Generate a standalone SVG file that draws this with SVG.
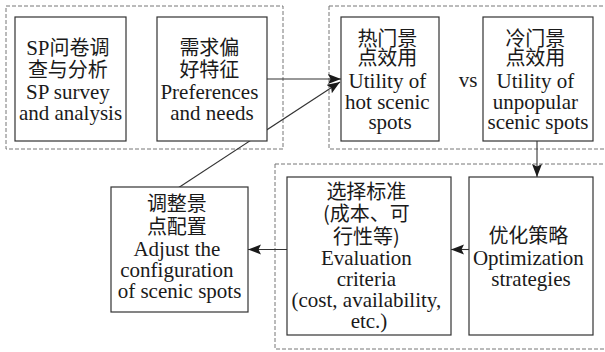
<svg xmlns="http://www.w3.org/2000/svg" width="605" height="352" viewBox="0 0 605 352">
  <style>
    .grp { fill: none; stroke: #777; stroke-width: 1; stroke-dasharray: 4 2; }
    .box { fill: #fff; stroke: #333; stroke-width: 1.2; }
    .lbl { font-family: "Liberation Serif", "Noto Sans CJK SC", serif; font-size: 21px; fill: #1a1a1a; text-anchor: middle; }
    .zh { font-family: "Noto Sans CJK SC", "Liberation Serif", sans-serif; font-size: 20px; }
    .wire { fill: none; stroke: #333; stroke-width: 1.1; }
  </style>
  <defs>
    <marker id="arrow" markerUnits="userSpaceOnUse" markerWidth="14" markerHeight="11" refX="13" refY="5" orient="auto">
      <path d="M0,0 L13,5 L0,10 L2.5,5 z" fill="#1a1a1a"/>
    </marker>
  </defs>

  <rect width="605" height="352" fill="#fff"/>

  <!-- dashed stage frames -->
  <g id="frames">
    <rect class="grp" x="6" y="6" width="277" height="143"/>
    <rect class="grp" x="329" y="6" width="282" height="143"/>
    <rect class="grp" x="275" y="164" width="336" height="185"/>
  </g>

  <!-- connectors -->
  <g id="connectors">
    <line class="wire" x1="267" y1="79" x2="341" y2="79" marker-end="url(#arrow)"/>
    <line class="wire" x1="178" y1="188" x2="340" y2="82" marker-end="url(#arrow)"/>
    <line class="wire" x1="537" y1="141" x2="537" y2="177" marker-end="url(#arrow)"/>
    <line class="wire" x1="469" y1="249.5" x2="451" y2="249.5" marker-end="url(#arrow)"/>
    <line class="wire" x1="287" y1="249.5" x2="248" y2="249.5" marker-end="url(#arrow)"/>
  </g>

  <g id="survey">
    <rect class="box" x="15" y="17" width="111" height="124"/>
    <text class="lbl">
      <tspan x="70.5" y="55"><tspan>SP</tspan><tspan class="zh">问卷调</tspan></tspan>
      <tspan class="zh" x="70.5" y="77">查与分析</tspan>
      <tspan x="70.5" y="99">SP survey</tspan>
      <tspan x="70.5" y="120">and analysis</tspan>
    </text>
  </g>

  <g id="preferences">
    <rect class="box" x="157" y="17" width="110" height="124"/>
    <text class="lbl">
      <tspan class="zh" x="212" y="55">需求偏</tspan>
      <tspan class="zh" x="212" y="77">好特征</tspan>
      <tspan x="212" y="99">Preferences</tspan>
      <tspan x="212" y="120">and needs</tspan>
    </text>
  </g>

  <g id="hot-utility">
    <rect class="box" x="341" y="17" width="98" height="124"/>
    <text class="lbl">
      <tspan class="zh" x="390" y="45.5">热门景</tspan>
      <tspan class="zh" x="390" y="65">点效用</tspan>
      <tspan x="390" y="88">Utility of</tspan>
      <tspan x="390" y="108.5">hot scenic</tspan>
      <tspan x="390" y="129">spots</tspan>
    </text>
  </g>

  <text id="vs" class="lbl" x="468" y="87">vs</text>

  <g id="cold-utility">
    <rect class="box" x="483" y="17" width="110" height="124"/>
    <text class="lbl">
      <tspan class="zh" x="538" y="45.5">冷门景</tspan>
      <tspan class="zh" x="538" y="65">点效用</tspan>
      <tspan x="538" y="88">Utility of</tspan>
      <tspan x="538" y="108.5">unpopular</tspan>
      <tspan x="538" y="129">scenic spots</tspan>
    </text>
  </g>

  <g id="optimization">
    <rect class="box" x="469" y="177" width="124" height="158"/>
    <text class="lbl">
      <tspan class="zh" x="531" y="242.5">优化策略</tspan>
      <tspan x="531" y="265">Optimization</tspan>
      <tspan x="531" y="286">strategies</tspan>
    </text>
  </g>

  <g id="criteria">
    <rect class="box" x="287" y="177" width="164" height="158"/>
    <text class="lbl">
      <tspan class="zh" x="369" y="199">选择标准</tspan>
      <tspan class="zh" x="369" y="221">(成本、可</tspan>
      <tspan class="zh" x="369" y="243.5">行性等)</tspan>
      <tspan x="369" y="265">Evaluation</tspan>
      <tspan x="369" y="286">criteria</tspan>
      <tspan x="369" y="307">(cost, availability,</tspan>
      <tspan x="369" y="328">etc.)</tspan>
    </text>
  </g>

  <g id="adjust">
    <rect class="box" x="111" y="187" width="137" height="125"/>
    <text class="lbl">
      <tspan class="zh" x="179.5" y="211">调整景</tspan>
      <tspan class="zh" x="179.5" y="233.5">点配置</tspan>
      <tspan x="179.5" y="256">Adjust the</tspan>
      <tspan x="179.5" y="277">configuration</tspan>
      <tspan x="179.5" y="297.5">of scenic spots</tspan>
    </text>
  </g>
</svg>
